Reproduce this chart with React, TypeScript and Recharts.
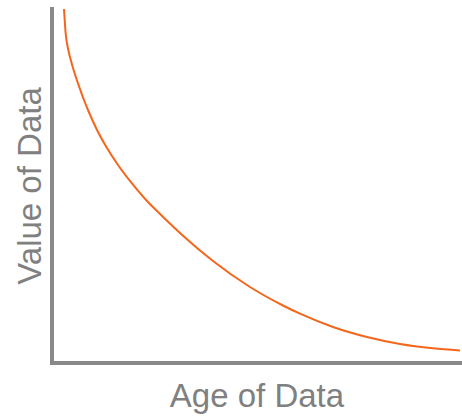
import { LineChart, Line, XAxis, YAxis, Label } from 'recharts';

// age of data (x) vs value of data (y), both 0..100
const ages = [2.93, 3.3, 3.98, 4.51, 5.2, 5.98, 6.83, 7.8, 8.78, 10.98, 13.41, 16.1, 19.51, 23.17, 25.61, 31.95, 39.27, 48.29, 56.34, 60.49, 68.54, 76.83, 84.88, 92.93, 99.51];
const values = [100, 93.5, 88.42, 85.88, 83.05, 80.23, 77.4, 74.29, 71.47, 65.82, 60.73, 55.93, 50.71, 45.76, 42.94, 35.96, 28.81, 21.47, 16.24, 13.93, 10.17, 7.34, 5.37, 4.15, 3.53];

const data = ages.map((age, i) => ({ age, value: values[i] }));

const axisColor = '#898989';
const textColor = '#808080';
const font = '"Liberation Sans", Arial, sans-serif';

export default function App() {
    return (
        <div style={{ position: 'absolute', left: 0, top: 0 }}>
            <LineChart width={462} height={418} data={data} margin={{ top: 9, right: 0, bottom: 0, left: 0 }}>
                <XAxis
                    dataKey="age"
                    type="number"
                    domain={[0, 100]}
                    height={55}
                    tick={false}
                    tickLine={false}
                    axisLine={{ stroke: axisColor, strokeWidth: 4, strokeLinecap: 'square' }}
                >
                    <Label
                        value="Age of Data"
                        position="insideBottom"
                        offset={11}
                        style={{ fontSize: 33, fill: textColor, fontFamily: font }}
                    />
                </XAxis>
                <YAxis
                    type="number"
                    domain={[0, 100]}
                    width={52}
                    tick={false}
                    tickLine={false}
                    axisLine={{ stroke: axisColor, strokeWidth: 4, strokeLinecap: 'square' }}
                >
                    <Label
                        value="Value of Data"
                        position="center"
                        angle={-90}
                        dx={3}
                        style={{ fontSize: 33, fill: textColor, fontFamily: font }}
                    />
                </YAxis>
                <Line
                    dataKey="value"
                    type="monotone"
                    stroke="#f4661b"
                    strokeWidth={2}
                    dot={false}
                    isAnimationActive={false}
                />
            </LineChart>
        </div>
    );
}
